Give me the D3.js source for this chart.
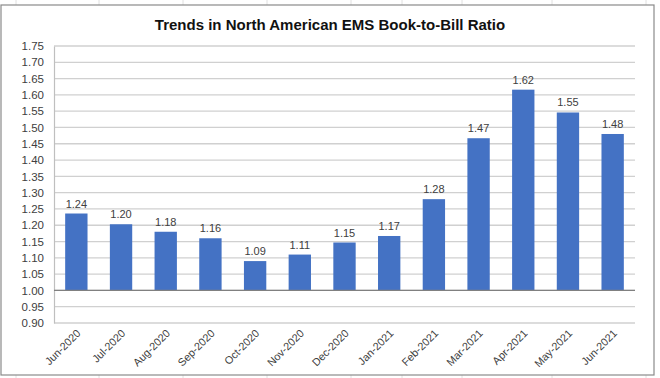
<!DOCTYPE html>
<html><head><meta charset="utf-8">
<script src="https://cdn.jsdelivr.net/npm/d3@7/dist/d3.min.js"></script>
<style>body{margin:0;background:#fff;}svg{display:block;font-family:"Liberation Sans",Arial,sans-serif;}</style>
</head><body><svg id="c" width="660" height="378"></svg>
<script>
const categories = ["Jun-2020","Jul-2020","Aug-2020","Sep-2020","Oct-2020","Nov-2020","Dec-2020","Jan-2021","Feb-2021","Mar-2021","Apr-2021","May-2021","Jun-2021"];
const values = [1.236,1.203,1.18,1.16,1.09,1.11,1.147,1.167,1.28,1.467,1.616,1.546,1.48];
const yTicks = [0.90,0.95,1.00,1.05,1.10,1.15,1.20,1.25,1.30,1.35,1.40,1.45,1.50,1.55,1.60,1.65,1.70,1.75];
const title = "Trends in North American EMS Book-to-Bill Ratio";
const sheetCols = [16,99,183,267,351,402,462,552,646];

const svg = d3.select("#c");
sheetCols.forEach(x=>{
  svg.append("line").attr("x1",x).attr("x2",x).attr("y1",0).attr("y2",5).attr("stroke","#e0e0e0");
  svg.append("line").attr("x1",x).attr("x2",x).attr("y1",375).attr("y2",378).attr("stroke","#e0e0e0");
});
svg.append("rect").attr("x",1).attr("y",5).attr("width",653).attr("height",370)
  .attr("fill","#fff").attr("stroke","#8a8a8a").attr("stroke-width",1.2);

const L=54,R=635,T=46,B=323;
const x = d3.scaleBand().domain(categories).range([L,R]).paddingInner(0.5).paddingOuter(0.25);
const y = d3.scaleLinear().domain([0.90,1.75]).range([B,T]);

svg.append("text").attr("x",330).attr("y",30).attr("text-anchor","middle")
  .attr("font-size",15).attr("font-weight","bold").attr("fill","#111").text(title);

svg.append("g").selectAll("line").data(yTicks).join("line")
  .attr("x1",L).attr("x2",R).attr("y1",d=>y(d)).attr("y2",d=>y(d))
  .attr("stroke","#d0d0d0").attr("stroke-width",1.3);

const ya = svg.append("g").attr("transform",`translate(${L},0)`)
  .call(d3.axisLeft(y).tickValues(yTicks).tickFormat(d3.format(".2f")).tickSize(0).tickPadding(10));
ya.select(".domain").attr("stroke","#bfbfbf").attr("stroke-width",1.2);
ya.selectAll("text").attr("font-size",11.5).attr("fill","#404040").attr("font-family","Liberation Sans, Arial, sans-serif");

svg.append("g").selectAll("rect").data(values).join("rect")
  .attr("x",(d,i)=>x(categories[i])).attr("width",x.bandwidth())
  .attr("y",d=>y(Math.max(d,1))).attr("height",d=>Math.abs(y(d)-y(1)))
  .attr("fill","#4472C4");

svg.append("line").attr("x1",L).attr("x2",R).attr("y1",y(1)).attr("y2",y(1))
  .attr("stroke","#808080").attr("stroke-width",1.3);

svg.append("g").selectAll("text").data(values).join("text")
  .attr("x",(d,i)=>x(categories[i])+x.bandwidth()/2).attr("y",d=>y(d)-6)
  .attr("text-anchor","middle").attr("font-size",11).attr("fill","#404040")
  .text(d=>d3.format(".2f")(d));

const xa = svg.append("g").attr("transform",`translate(0,${B})`)
  .call(d3.axisBottom(x).tickSize(0).tickPadding(0));
xa.select(".domain").remove();
xa.selectAll("text").attr("font-size",10.8).attr("fill","#404040")
  .attr("font-family","Liberation Sans, Arial, sans-serif")
  .attr("text-anchor","end").attr("dy",0)
  .attr("transform","translate(5,11) rotate(-45)");
</script></body></html>
